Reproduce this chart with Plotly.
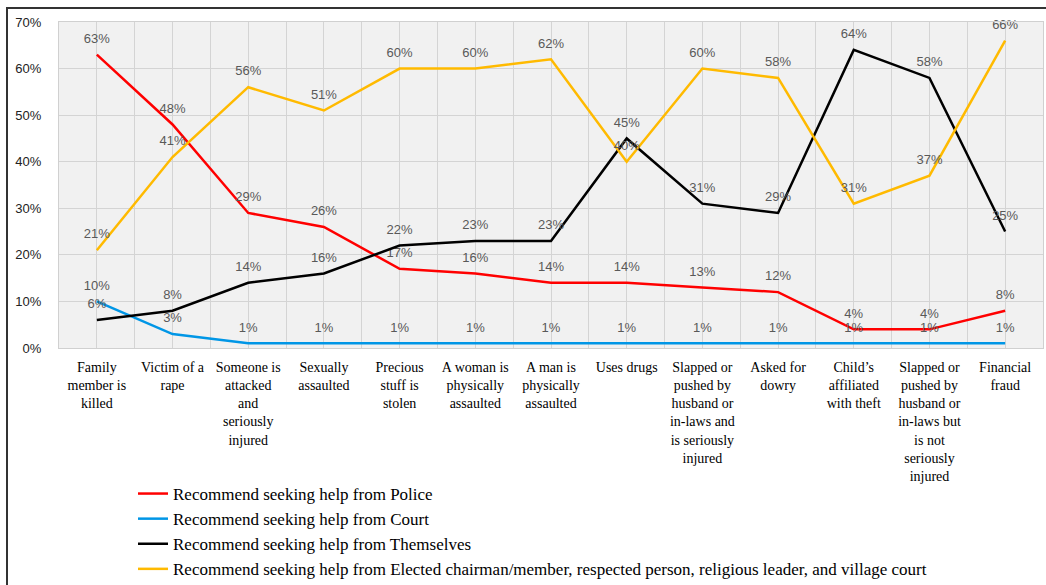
import plotly.graph_objects as go

categories = [
    "Family<br>member is<br>killed",
    "Victim of a<br>rape",
    "Someone is<br>attacked<br>and<br>seriously<br>injured",
    "Sexually<br>assaulted",
    "Precious<br>stuff is<br>stolen",
    "A woman is<br>physically<br>assaulted",
    "A man is<br>physically<br>assaulted",
    "Uses drugs",
    "Slapped or<br>pushed by<br>husband or<br>in-laws and<br>is seriously<br>injured",
    "Asked for<br>dowry",
    "Child’s<br>affiliated<br>with theft",
    "Slapped or<br>pushed by<br>husband or<br>in-laws but<br>is not<br>seriously<br>injured",
    "Financial<br>fraud",
]

police = [63, 48, 29, 26, 17, 16, 14, 14, 13, 12, 4, 4, 8]
court = [10, 3, 1, 1, 1, 1, 1, 1, 1, 1, 1, 1, 1]
themselves = [6, 8, 14, 16, 22, 23, 23, 45, 31, 29, 64, 58, 25]
elected = [21, 41, 56, 51, 60, 60, 62, 40, 60, 58, 31, 37, 66]

series_names = [
    "Recommend seeking help from Police",
    "Recommend seeking help from Court",
    "Recommend seeking help from Themselves",
    "Recommend seeking help from Elected chairman/member, respected person, religious leader, and village court",
]
series_values = [police, court, themselves, elected]
series_colors = ["#FF0000", "#0096E6", "#000000", "#FFBA00"]

yticks = [0, 10, 20, 30, 40, 50, 60, 70]

idx = list(range(len(categories)))

fig = go.Figure()
for name, vals, col in zip(series_names, series_values, series_colors):
    fig.add_trace(go.Scatter(
        x=idx,
        y=[v / 100 for v in vals],
        name=name,
        mode="lines+markers+text",
        line=dict(color=col, width=2.5),
        marker=dict(size=12, color="rgba(0,0,0,0)"),
        text=[f"{v}%" for v in vals],
        textposition="top center",
        textfont=dict(family="Liberation Sans", size=13, color="#595959"),
        cliponaxis=False,
    ))

W, H = 1046, 585
ml, mr, mt, mb = 59, 3, 22, 237
pw, ph = W - ml - mr, H - mt - mb

fig.update_layout(
    width=W, height=H,
    margin=dict(l=ml, r=mr, t=mt, b=mb, autoexpand=False),
    paper_bgcolor="white",
    plot_bgcolor="#f1f1f1",
    showlegend=True,
    legend=dict(
        orientation="v",
        x=(133 - ml) / pw, xanchor="left",
        y=(mt + ph - 476) / ph, yanchor="top",
        font=dict(family="Liberation Serif", size=17, color="#000000"),
        traceorder="normal",
        bgcolor="rgba(0,0,0,0)",
        itemwidth=30,
        tracegroupgap=0,
    ),
    xaxis=dict(
        range=[-0.5, len(categories) - 0.5],
        tickmode="array",
        tickvals=idx,
        ticktext=categories,
        tickfont=dict(family="Liberation Serif", size=14, color="#000000"),
        ticklabelstandoff=6,
        automargin=False,
        showgrid=True,
        gridcolor="#d4d4d4",
        gridwidth=1,
        minor=dict(tickmode="linear", tick0=-0.5, dtick=0.5, showgrid=True, gridcolor="#d4d4d4"),
        zeroline=False,
        showline=True, linecolor="#d0d0d0", mirror=True,
        ticks="",
        tickangle=0,
    ),
    yaxis=dict(
        range=[0, 0.7],
        tickmode="array",
        tickvals=[t / 100 for t in yticks],
        ticktext=[f"{t}%" for t in yticks],
        tickfont=dict(family="Liberation Sans", size=13, color="#222222"),
        ticklabelstandoff=14,
        automargin=False,
        showgrid=True,
        gridcolor="#d4d4d4",
        zeroline=False,
        showline=True, linecolor="#d0d0d0", mirror=True,
        ticks="",
    ),
    shapes=[dict(
        type="rect", xref="paper", yref="paper",
        x0=(7 - ml) / pw, x1=(W + 20 - ml) / pw,
        y0=(mt + ph - (H + 20)) / ph, y1=(mt + ph - 8) / ph,
        line=dict(color="#333333", width=2),
        fillcolor="rgba(0,0,0,0)",
        layer="below",
    )],
)

fig.write_html("out.html")
